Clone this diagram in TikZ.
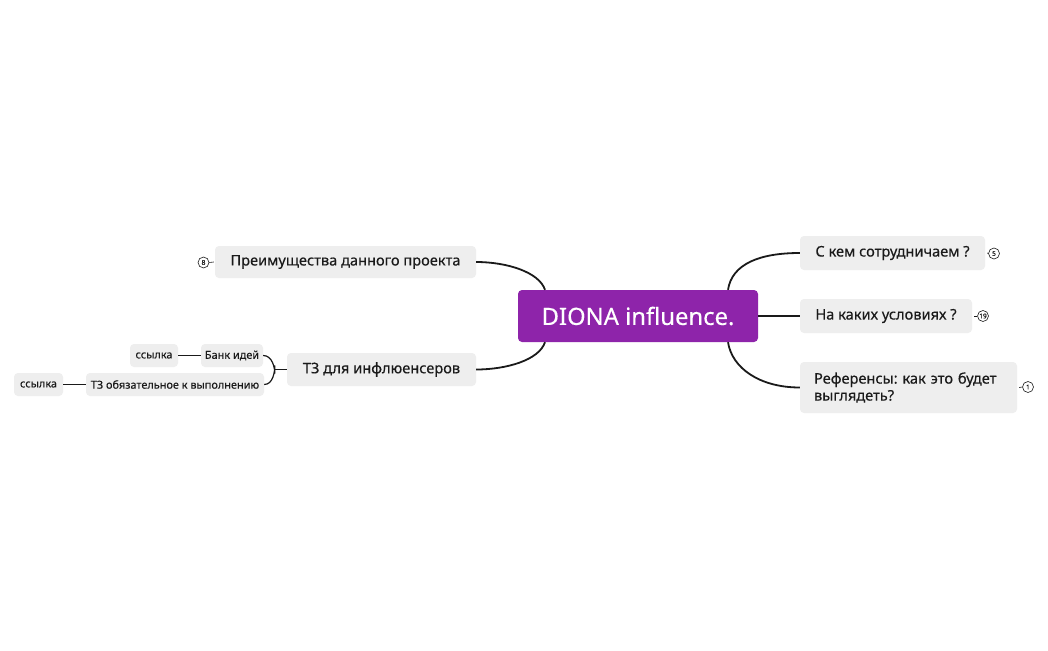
\documentclass[tikz,border=0pt]{standalone}
\usepackage{fontspec}
\setmainfont{Noto Sans}[FakeBold=0.35]
\frenchspacing
\definecolor{purp}{HTML}{8E24AA}
\definecolor{boxg}{HTML}{EEEEEE}
\definecolor{ink}{HTML}{1A1A1A}
\begin{document}
\begin{tikzpicture}[x=1pt,y=-1pt,
  topic/.style={fill=boxg,rounded corners=4pt,inner sep=0pt,text=ink,font=\fontsize{14.6}{17}\selectfont},
  small/.style={fill=boxg,rounded corners=4pt,inner sep=0pt,text=ink,font=\fontsize{10.9}{12}\selectfont},
  badge/.style={circle,draw=ink,line width=0.6pt,inner sep=0pt,minimum size=11pt,text=ink,font=\fontsize{6.5}{7}\selectfont},
  conn/.style={draw=ink,line width=1.8pt},
  thin/.style={draw=ink,line width=1.2pt},
  tick/.style={draw=ink,line width=0.6pt}]
\useasboundingbox (0,0) rectangle (1048,650);
\fill[white] (0,0) rectangle (1048,650);

\node[fill=purp,rounded corners=4pt,inner sep=0pt,minimum width=240pt,minimum height=52pt,text=white,font=\fontsize{23.8}{28}\selectfont] (c) at (638,316) {DIONA influence.};

\node[topic,minimum width=185pt,minimum height=34pt] (r1) at (892.5,253) {С кем сотрудничаем ?};
\node[topic,minimum width=172pt,minimum height=34pt] (r2) at (886,316) {На каких условиях ?};
\node[topic,text width=189pt,inner xsep=14pt,minimum height=51pt,align=left] (r3) at (908.5,387.5) {Референсы: как это будет\\выглядеть?};

\node[topic,minimum width=261pt,minimum height=32pt] (l1) at (345.5,262) {Преимущества данного проекта};
\node[topic,minimum width=189pt,minimum height=33pt] (l2) at (381.5,369.5) {ТЗ для инфлюенсеров};

\node[small,minimum width=62pt,minimum height=23pt] (b1) at (232,355.5) {Банк идей};
\node[small,minimum width=178pt,minimum height=23pt] (b2) at (175,384.5) {ТЗ обязательное к выполнению};
\node[small,minimum width=48pt,minimum height=23pt] (s1) at (154,355.5) {ссылка};
\node[small,minimum width=49pt,minimum height=23pt] (s2) at (38.5,384.5) {ссылка};

\node[badge] (n5) at (994,253.5) {5};
\node[badge] (n19) at (983,316) {19};
\node[badge] (n1) at (1028,387) {1};
\node[badge] (n8) at (203.5,262.5) {8};

% main connectors
\draw[conn] ([xshift=90pt]c.north) .. controls +(4,-26) and +(-40,0) .. (r1.west);
\draw[conn] (c.east) -- (r2.west);
\draw[conn] ([xshift=90pt]c.south) .. controls +(4,26) and +(-40,0) .. (r3.west);
\draw[conn] ([xshift=-93pt]c.north) .. controls +(-6,-18) and +(30,0) .. (l1.east);
\draw[conn] ([xshift=-93pt]c.south) .. controls +(-6,18) and +(30,0) .. (l2.east);

% bracket
\coordinate (j) at ([xshift=-12pt]l2.west);
\draw[thin] (l2.west) -- (j);
\draw[thin] (b1.east) .. controls +(9,0) and +(0,-6) .. ([yshift=-4pt]j) -- ([yshift=4pt]j) .. controls +(0,6) and +(9,0) .. (b2.east);
\draw[thin] (b1.west) -- (s1.east);
\draw[thin] (b2.west) -- (s2.east);

% badge ticks
\draw[tick] ([xshift=2pt]r1.east) -- (n5.west);
\draw[tick] ([xshift=2pt]r2.east) -- (n19.west);
\draw[tick] ([xshift=2pt]r3.east) -- (n1.west);
\draw[tick] (n8.east) -- ([xshift=-1pt]l1.west);
\end{tikzpicture}
\end{document}
